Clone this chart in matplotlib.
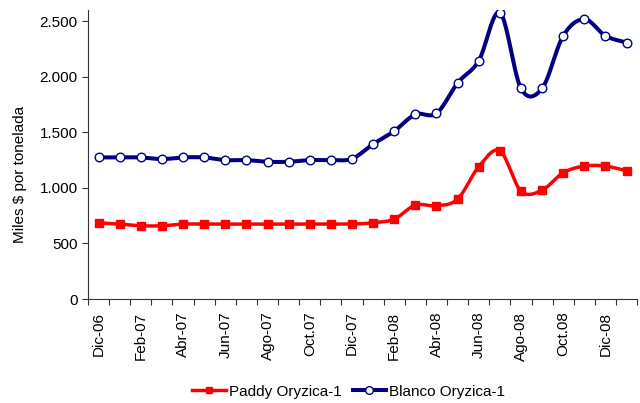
import numpy as np
import matplotlib
matplotlib.use("Agg")
import matplotlib.pyplot as plt
from matplotlib.lines import Line2D
from matplotlib.ticker import FuncFormatter

plt.rcParams["font.family"] = ["Liberation Sans", "DejaVu Sans"]
plt.rcParams["font.size"] = 11

# monthly series, Dic-06 .. Ene-09
months = ["Dic-06", "Ene-07", "Feb-07", "Mar-07", "Abr-07", "May-07", "Jun-07",
          "Jul-07", "Ago-07", "Sep-07", "Oct.07", "Nov-07", "Dic-07", "Ene-08",
          "Feb-08", "Mar-08", "Abr-08", "May-08", "Jun-08", "Jul-08", "Ago-08",
          "Sep-08", "Oct.08", "Nov-08", "Dic-08", "Ene-09"]
paddy = [686, 674, 659, 659, 674, 674, 674, 674, 674, 674, 674, 674, 674,
         686, 719, 845, 839, 899, 1190, 1334, 971, 980, 1136, 1196, 1196, 1154]
blanco = [1274, 1274, 1274, 1259, 1274, 1274, 1250, 1250, 1235, 1235, 1250, 1250, 1262,
          1394, 1511, 1661, 1670, 1945, 2143, 2578, 1895, 1895, 2368, 2518, 2368, 2308]


def smooth(y, n=24):
    # bezier smoothing through the points, like a spreadsheet "smoothed line"
    p = np.array(y, dtype=float)
    x = np.arange(len(p), dtype=float)
    xs, ys = [], []
    for i in range(len(p) - 1):
        im1 = max(i - 1, 0)
        ip2 = min(i + 2, len(p) - 1)
        t = np.linspace(0, 1, n)
        for arr, out in ((x, xs), (p, ys)):
            b0 = arr[i]
            b1 = arr[i] + (arr[i + 1] - arr[im1]) / 6
            b2 = arr[i + 1] - (arr[ip2] - arr[i]) / 6
            b3 = arr[i + 1]
            out.extend((1 - t) ** 3 * b0 + 3 * (1 - t) ** 2 * t * b1
                       + 3 * (1 - t) * t ** 2 * b2 + t ** 3 * b3)
    return np.array(xs), np.array(ys)


red = "#FF0000"
navy = "#000080"

fig = plt.figure(figsize=(6.4, 4.03), dpi=100)
ax = fig.add_axes([0.1375, 0.258, 0.858, 0.717])

x = np.arange(len(months))
sx, sy = smooth(paddy)
ax.plot(sx, sy, color=red, lw=2.5, zorder=2)
ax.plot(x, paddy, ls="none", marker="s", ms=5.3, color=red, zorder=3)
sx, sy = smooth(blanco)
ax.plot(sx, sy, color=navy, lw=2.9, zorder=2)
ax.plot(x, blanco, ls="none", marker="o", ms=6.2, mfc="white", mec=navy, mew=1.0, zorder=3)

ax.set_xlim(-0.5, len(months) - 0.5)
ax.set_ylim(0, 2600)
ax.set_yticks(np.arange(0, 2501, 500))
ax.yaxis.set_major_formatter(FuncFormatter(lambda v, p: f"{int(v):,}".replace(",", ".")))
ax.set_ylabel("Miles $ por tonelada")
ax.yaxis.set_label_coords(-0.111, 0.43)

ax.set_xticks(np.arange(len(months) + 1) - 0.5)
ax.set_xticklabels([])
ax.set_xticks(x[::2], minor=True)
ax.set_xticklabels(months[::2], minor=True, rotation=90)
ax.tick_params(axis="x", which="minor", length=0, pad=9)
ax.tick_params(axis="x", which="major", length=4, direction="out", color="#333333")
ax.tick_params(axis="y", length=4, direction="out", color="#333333")

for s in ["top", "right"]:
    ax.spines[s].set_visible(False)
for s in ["left", "bottom"]:
    ax.spines[s].set_color("#333333")

handles = [Line2D([], [], color=red, lw=2.5, marker="s", ms=4.5),
           Line2D([], [], color=navy, lw=2.9, marker="o", ms=5.5, mfc="white", mec=navy)]
fig.legend(handles, ["Paddy Oryzica-1", "Blanco Oryzica-1"], loc="center",
           bbox_to_anchor=(0.545, 0.028), ncol=2, frameon=False,
           handlelength=2.2, handletextpad=0.2, columnspacing=0.7)

fig.savefig("out.png", dpi=100)
